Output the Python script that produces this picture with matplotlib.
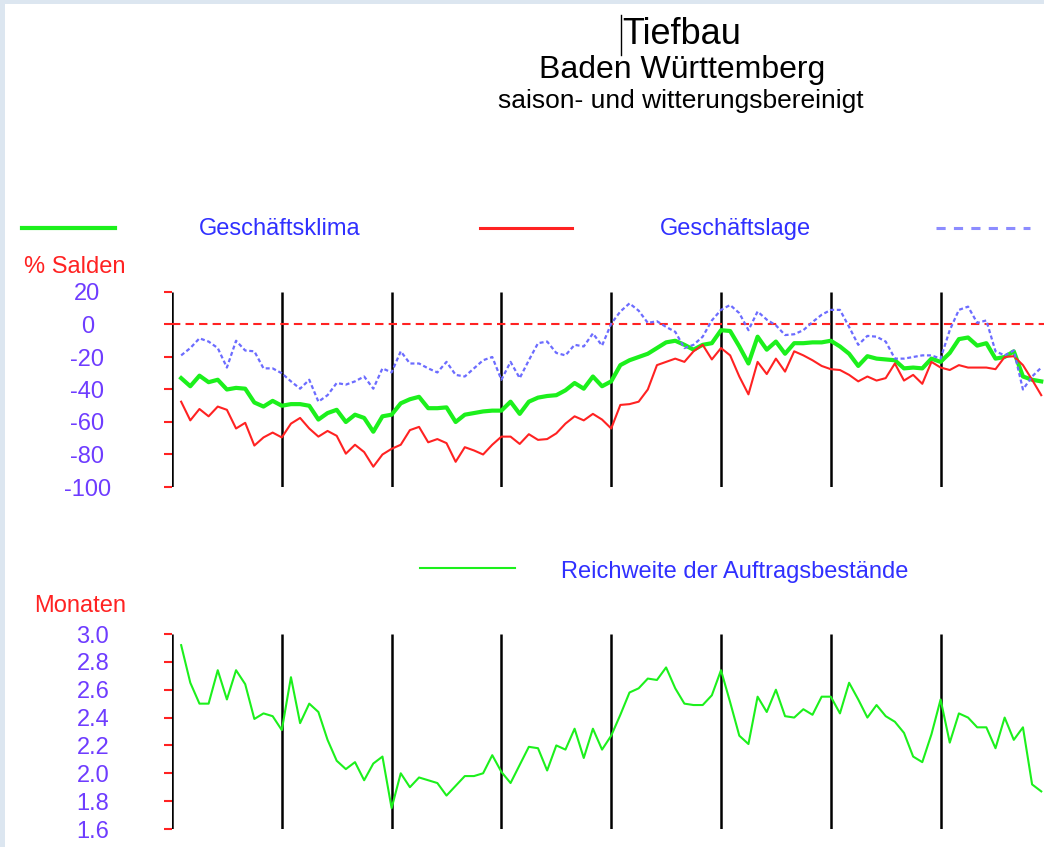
import numpy as np
import matplotlib
matplotlib.use("Agg")
import matplotlib.pyplot as plt
from matplotlib.lines import Line2D
from matplotlib.patches import Rectangle

plt.rcParams["font.family"] = ["Liberation Sans", "DejaVu Sans"]
plt.rcParams["axes.unicode_minus"] = False

# monthly values, month 1 .. 95 (year boundaries every 12 months)
klima = [-33, -38, -31.5, -35.5, -34, -40, -39, -39.5, -48, -50.5, -47, -50,
         -49, -49, -50, -58.5, -54.5, -52.5, -60, -55.5, -57.5, -66, -56.5, -55.5,
         -48.5, -46, -44.5, -51.5, -51.5, -51, -60, -55.5, -54.5, -53.5, -53, -53,
         -47.5, -55, -47.5, -45, -44, -43.5, -40.5, -36, -39.5, -32, -38, -35,
         -25, -22, -20, -18, -14.5, -11, -10, -12.5, -15.5, -12.5, -11.5, -3.5,
         -4, -13.5, -24, -7.5, -15.5, -10.5, -18, -11.5, -11.5, -11, -11, -10,
         -13.5, -18, -25.5, -19.5, -21, -21.5, -22, -27, -26.5, -27, -21, -23,
         -17.5, -9, -8, -13, -11.5, -21, -20, -16.5, -32, -34, -35]
lage = [-47.5, -59, -52, -56.5, -50.5, -52.5, -64, -60.5, -74.5, -69.5, -66.5, -69.5,
        -61, -57.5, -64, -69, -65.5, -68.5, -79.5, -74, -78.5, -87.5, -80, -76.5,
        -74, -65, -63, -72.5, -70.5, -73, -84.5, -75.5, -77.5, -80, -74, -69,
        -69, -73.5, -67.5, -71, -70.5, -67, -61, -56.5, -59, -55, -58.5, -64,
        -49.5, -49, -47.5, -40, -25, -23, -21, -23, -16.5, -12.5, -21.5, -14.5,
        -19, -32, -43, -23, -30.5, -21, -29, -16.5, -19, -22, -25.5, -27.5,
        -28, -31, -35, -32, -34.5, -33, -24, -34.5, -31, -36.5, -23, -26.5,
        -28, -25, -26.5, -26.5, -26.5, -27.5, -20, -19.5, -25, -34, -43.5]
erwartungen = [-19, -14.5, -8.5, -10.5, -14.5, -26.5, -10, -16, -16.5, -27, -27, -30,
               -35, -39.5, -34, -47.5, -43.5, -36, -37, -35, -32, -39.5, -27, -29.5,
               -16.5, -24, -24, -27, -29.5, -23, -31, -32, -27, -22, -20, -34,
               -23, -33, -22, -11.5, -10.5, -17.5, -19, -12.5, -13.5, -5.5, -13, 0.5,
               8, 13, 8.5, 1, 2, -1.5, -4.5, -14.5, -12.5, -7.5, 2.5, 9,
               12, 7, -3.5, 8, 3, -0.5, -6.5, -6, -3.5, 1.5, 6, 9,
               9, -1.5, -12.5, -7, -7.5, -10.5, -21, -21, -20, -19, -19, -21,
               -3.5, 9, 11, 1, 2.5, -16.5, -19, -16, -40, -32, -26.5]
reichweite = [2.92, 2.65, 2.50, 2.50, 2.74, 2.53, 2.74, 2.64, 2.39, 2.43, 2.41, 2.31,
              2.69, 2.36, 2.50, 2.44, 2.24, 2.09, 2.03, 2.08, 1.95, 2.07, 2.12, 1.75,
              2.00, 1.90, 1.97, 1.95, 1.93, 1.84, 1.91, 1.98, 1.98, 2.00, 2.13, 2.01,
              1.93, 2.06, 2.19, 2.18, 2.02, 2.20, 2.17, 2.32, 2.11, 2.32, 2.17, 2.27,
              2.42, 2.58, 2.61, 2.68, 2.67, 2.76, 2.61, 2.50, 2.49, 2.49, 2.56, 2.74,
              2.51, 2.27, 2.21, 2.55, 2.44, 2.60, 2.41, 2.40, 2.46, 2.42, 2.55, 2.55,
              2.43, 2.65, 2.53, 2.40, 2.49, 2.41, 2.37, 2.29, 2.12, 2.08, 2.28, 2.53,
              2.22, 2.43, 2.40, 2.33, 2.33, 2.18, 2.40, 2.24, 2.33, 1.92, 1.87]
months = np.arange(1, len(klima) + 1)
year_marks = [0, 12, 24, 36, 48, 60, 72, 84]

top_ticks = [20, 0, -20, -40, -60, -80, -100]
bottom_ticks = [3.0, 2.8, 2.6, 2.4, 2.2, 2.0, 1.8, 1.6]

GREEN = "#1cf01c"
RED = "#ff2222"
BLUE = "#6c6cff"
TEXT_BLUE = "#3030ff"
TICK_PURPLE = "#6e3cff"

W, H = 1044, 847
fig = plt.figure(figsize=(W / 100, H / 100), dpi=100, facecolor="#dce6f0")
fig.patches.append(Rectangle((5 / W, 0), 1, 1 - 4 / H, transform=fig.transFigure,
                             facecolor="white", edgecolor="none", zorder=-10))


def fx(px):
    return px / W


def fy(py):
    return 1 - py / H


x_right = (W - 172) / 9.15

ax1 = fig.add_axes([fx(172), fy(487), (W - 172) / W, 195 / H])
ax2 = fig.add_axes([fx(172), fy(829), (W - 172) / W, 195 / H])

for ax, ticks, lo, hi, pad in [(ax1, top_ticks, -100, 20, 55),
                               (ax2, bottom_ticks, 1.6, 3.0, 51)]:
    ax.set_facecolor("none")
    for s in ax.spines.values():
        s.set_visible(False)
    ax.set_xlim(0, x_right)
    ax.set_ylim(lo, hi)
    ax.set_xticks([])
    ax.vlines(year_marks, lo, hi, color="black", lw=1.8, zorder=1)
    ax.set_yticks(ticks)
    ax.tick_params(axis="y", colors=RED, length=6, width=1.5, pad=pad,
                   labelsize=17, labelcolor=TICK_PURPLE)

ax2.set_yticklabels([f"{t:.1f}" for t in bottom_ticks])
for ax in (ax1, ax2):
    for lab in ax.get_yticklabels():
        lab.set_horizontalalignment("center")

ax1.axhline(0, color=RED, lw=1.5, ls=(0, (4, 2.5)), zorder=2)
ax1.plot(months, klima, color=GREEN, lw=3, zorder=3)
ax1.plot(months, lage, color=RED, lw=1.5, zorder=4)
ax1.plot(months, erwartungen, color=BLUE, lw=1.6, ls=(0, (1.8, 1.2)), zorder=5)
ax2.plot(months, reichweite, color=GREEN, lw=1.5, zorder=3)

# titles
fig.text(fx(682), fy(34), "Tiefbau", ha="center", va="center", fontsize=26)
fig.text(fx(682), fy(70), "Baden Württemberg", ha="center", va="center", fontsize=23)
fig.text(fx(681), fy(101), "saison- und witterungsbereinigt", ha="center",
         va="center", fontsize=19)
fig.lines.append(Line2D([fx(621), fx(621)], [fy(15), fy(55)], color="black",
                        lw=1, transform=fig.transFigure))

# legend rows
def legend_line(x0, x1, y, **kw):
    fig.lines.append(Line2D([fx(x0), fx(x1)], [fy(y), fy(y)],
                            transform=fig.transFigure, **kw))


legend_line(22, 115, 228, color=GREEN, lw=3)
fig.text(fx(280), fy(229), "Geschäftsklima", ha="center", va="center",
         fontsize=17, color=TEXT_BLUE)
legend_line(480, 572, 228, color=RED, lw=2.2)
fig.text(fx(735), fy(229), "Geschäftslage", ha="center", va="center",
         fontsize=17, color=TEXT_BLUE)
legend_line(936, 1030, 228, color="#8c8cff", lw=2.2, ls=(0, (3, 2.7)))

legend_line(420, 515, 568, color=GREEN, lw=1.5)
fig.text(fx(735), fy(572), "Reichweite der Auftragsbestände", ha="center",
         va="center", fontsize=17, color=TEXT_BLUE)

fig.text(fx(126), fy(267), "% Salden", ha="right", va="center", fontsize=17, color=RED)
fig.text(fx(126), fy(606), "Monaten", ha="right", va="center", fontsize=17, color=RED)

fig.savefig("out.png", dpi=100, facecolor=fig.get_facecolor())
